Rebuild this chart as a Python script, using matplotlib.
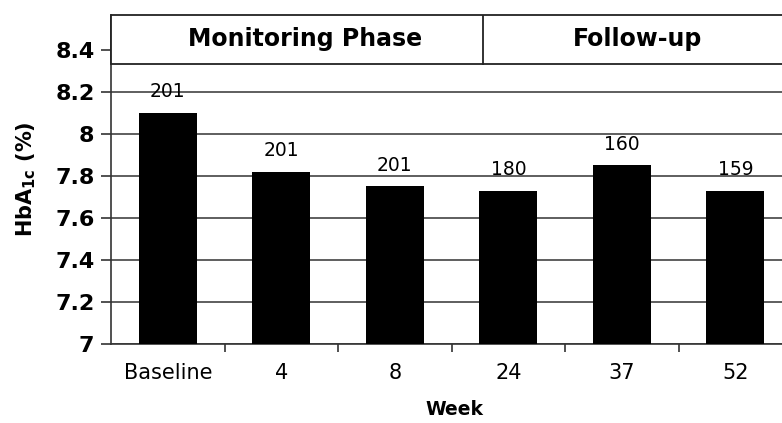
import matplotlib.pyplot as plt
from matplotlib.patches import Rectangle

# Daten
weeks = ['Baseline', '4', '8', '24', '37', '52']
hba1c = [8.10, 7.82, 7.75, 7.73, 7.85, 7.73]
n_pat = [201, 201, 201, 180, 160, 159]
phases = ['Monitoring Phase', 'Follow-up']

plt.rcParams['font.family'] = 'DejaVu Sans'

fig = plt.figure(figsize=(7.82, 4.23), dpi=100)
ax = fig.add_axes([0.142, 0.187, 0.871, 0.778])

x = list(range(len(weeks)))
ax.bar(x, hba1c, width=0.51, color='black', zorder=3)
for xi, v, n in zip(x, hba1c, n_pat):
    ax.text(xi, v + 0.055, str(n), ha='center', va='bottom', fontsize=13.5, zorder=4)

ax.set_ylim(7, 8.567)
ax.set_xlim(-0.5, 5.5)
ax.set_yticks([7, 7.2, 7.4, 7.6, 7.8, 8, 8.2, 8.4])
ax.set_yticklabels(['7', '7.2', '7.4', '7.6', '7.8', '8', '8.2', '8.4'],
                   fontsize=16, fontweight='bold')
ax.yaxis.grid(True, color='#333333', linewidth=1.1, zorder=0)
ax.set_axisbelow(True)

# x-Ticks an den Kategoriegrenzen, Beschriftung in der Mitte
ax.set_xticks([i + 0.5 for i in x[:-1]])
ax.set_xticklabels([])
ax.tick_params(axis='x', length=6, width=1.2, color='#333333')
ax.tick_params(axis='y', length=7, width=1.2, color='#333333', pad=5)
for xi, lab in zip(x, weeks):
    ax.text(xi, 6.91, lab, ha='center', va='top', fontsize=15)

ax.set_xlabel('Week', fontsize=13.5, fontweight='bold', va='center')
ax.xaxis.set_label_coords(0.504, -0.2)
ax.set_ylabel('HbA$_{\\mathbf{1c}}$ (%)', fontsize=15, fontweight='bold', labelpad=12)

for s in ['top', 'right']:
    ax.spines[s].set_visible(False)
ax.spines['left'].set_linewidth(1.2)
ax.spines['bottom'].set_linewidth(1.2)
ax.spines['left'].set_color('#333333')
ax.spines['bottom'].set_color('#333333')

# Kopfleiste mit Phasen
y0, y1 = 8.333, 8.567
split = 2.775
ax.add_patch(Rectangle((-0.5, y0), 6.0, y1 - y0, facecolor='white',
                       edgecolor='#222222', linewidth=1.3, zorder=5, clip_on=False))
ax.plot([split, split], [y0, y1], color='#222222', linewidth=1.3, zorder=6)
ax.text((-0.5 + split) / 2 + 0.07, (y0 + y1) / 2, phases[0], ha='center', va='center',
        fontsize=17, fontweight='bold', zorder=7)
ax.text((split + 5.5) / 2, (y0 + y1) / 2, phases[1], ha='center', va='center',
        fontsize=17, fontweight='bold', zorder=7)

fig.savefig('out.png', dpi=100)
